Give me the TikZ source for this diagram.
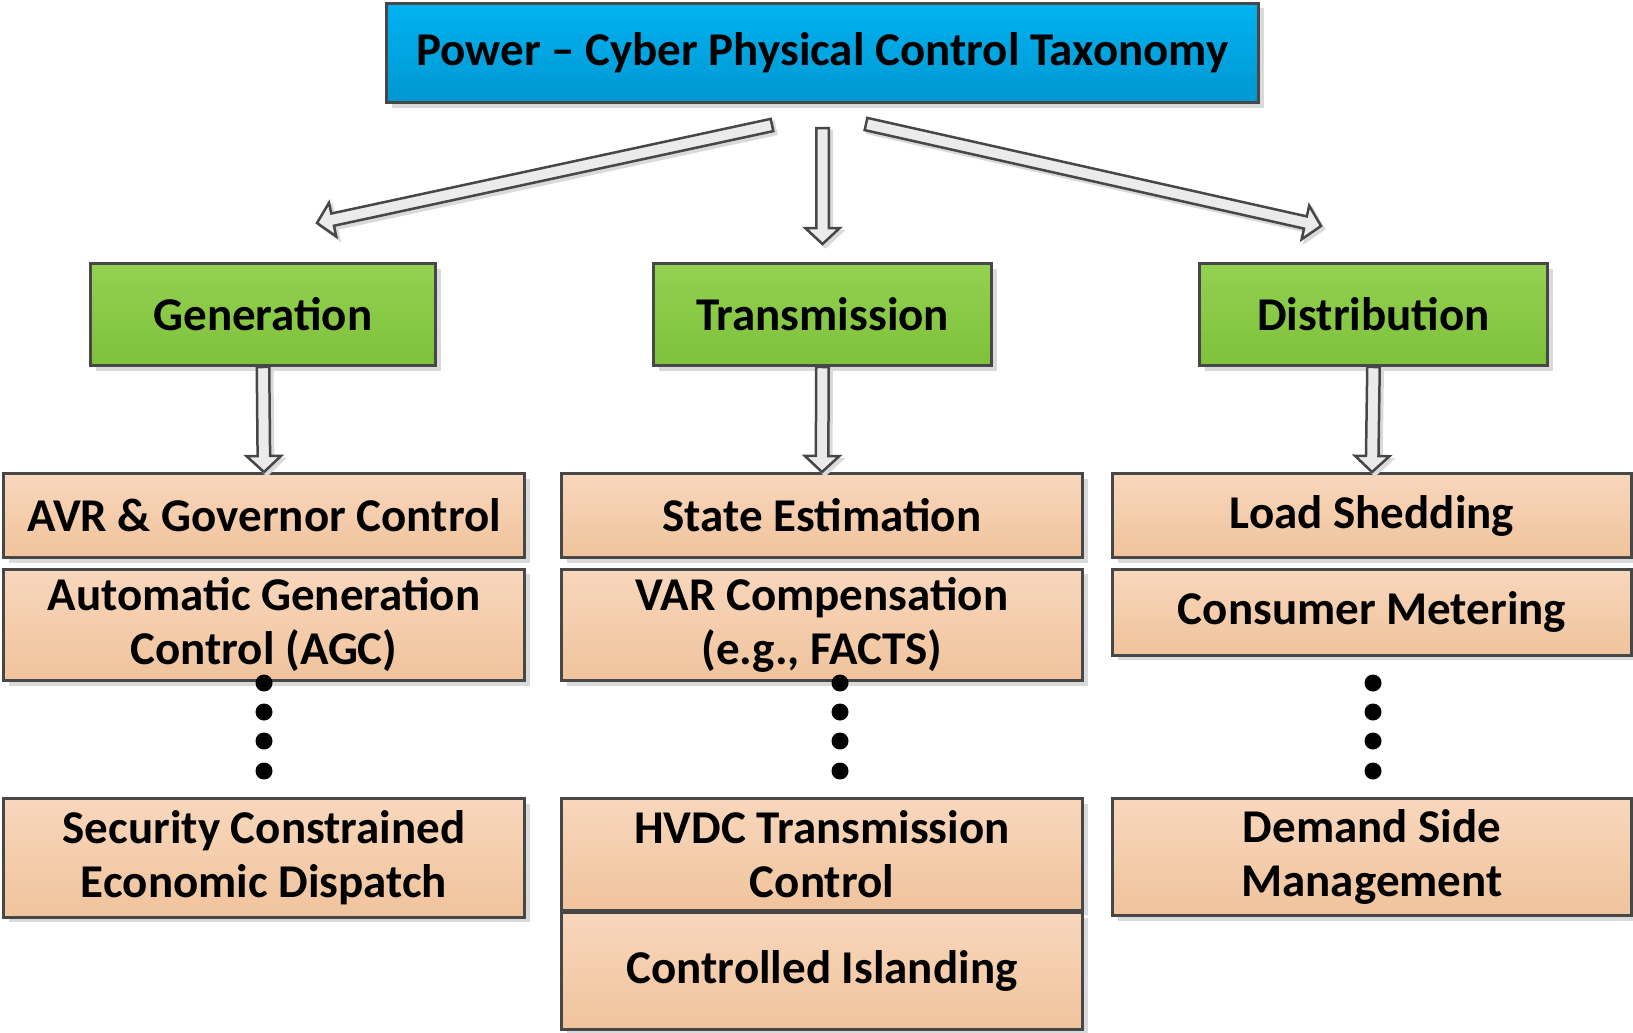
\documentclass[tikz,border=0pt]{standalone}
\usepackage{fontspec}
\setmainfont{Carlito}
\usetikzlibrary{calc,shadows}

\definecolor{blueTop}{HTML}{00B2F0}
\definecolor{blueBot}{HTML}{0098D2}
\definecolor{greenTop}{HTML}{93D152}
\definecolor{greenBot}{HTML}{7EC13A}
\definecolor{peachTop}{HTML}{F8D7BC}
\definecolor{peachBot}{HTML}{F0C39C}
\definecolor{edgeGray}{HTML}{474747}
\definecolor{arrowFill}{HTML}{EBEBEB}
\definecolor{shadowGray}{HTML}{DADADA}

% hollow block arrow from #1 to #2 (shaft half width, head half width, head length)
\newcommand\aw{6.25pt}
\newcommand\ah{17.25pt}
\newcommand\al{16pt}
\newcommand\arrowoutline[2]{%
  ($(#1)!\aw!90:(#2)$) -- ($(bah)!\aw!90:(#2)$) -- ($(bah)!\ah!90:(#2)$) --
  (#2) -- ($(bah)!\ah!-90:(#2)$) -- ($(bah)!\aw!-90:(#2)$) --
  ($(#1)!\aw!-90:(#2)$) -- cycle}
\newcommand\blockarrow[2]{%
  \coordinate (bah) at ($(#2)!\al!(#1)$);
  \filldraw[shadowGray, line width=2.5pt, transform canvas={shift={(3pt,-3pt)}}] \arrowoutline{#1}{#2};
  \filldraw[fill=arrowFill, draw=edgeGray, line width=2.5pt, line join=miter] \arrowoutline{#1}{#2};
}

\tikzset{
  box/.style={draw=edgeGray, line width=3pt, inner sep=0pt, align=center,
    font=\bfseries\fontsize{47}{54}\selectfont,
    drop shadow={shadow xshift=5pt, shadow yshift=-5pt, fill=shadowGray, opacity=1}},
  titlebox/.style={box, top color=blueTop, bottom color=blueBot},
  catbox/.style={box, top color=greenTop, bottom color=greenBot},
  itembox/.style={box, top color=peachTop, bottom color=peachBot},
  gapdot/.style={circle, fill=black, inner sep=0pt, minimum size=17pt},
}

\begin{document}
\begin{tikzpicture}[x=1pt, y=-1pt]
\useasboundingbox (0,0) rectangle (1633,1033);

% title
\node[titlebox, minimum width=872pt, minimum height=99pt] (top) at (822.5,53)
  {Power – Cyber Physical Control Taxonomy};

% categories
\node[catbox, minimum width=345pt, minimum height=102pt] (gen) at (263,314.5) {Generation};
\node[catbox, minimum width=338pt, minimum height=102pt] (tra) at (822.5,314.5) {Transmission};
\node[catbox, minimum width=348pt, minimum height=102pt] (dis) at (1373.5,314.5) {Distribution};

% generation controls
\node[itembox, minimum width=521pt, minimum height=84pt] (avr) at (264,515.5) {AVR \& Governor Control};
\node[itembox, minimum width=521pt, minimum height=111.5pt] (agc) at (264,624.75) {Automatic Generation\\Control (AGC)};
\node[itembox, minimum width=521pt, minimum height=118.5pt] (sced) at (264,857.75) {Security Constrained\\Economic Dispatch};

% transmission controls
\node[itembox, minimum width=521pt, minimum height=84pt] (se) at (822,515.5) {State Estimation};
\node[itembox, minimum width=521pt, minimum height=111.5pt] (var) at (822,624.75) {VAR Compensation\\(e.g., FACTS)};
\node[itembox, minimum width=521pt, minimum height=111.5pt] (hvdc) at (822,854.25) {HVDC Transmission\\Control};
\node[itembox, minimum width=521pt, minimum height=116.5pt] (isl) at (822,970.75) {Controlled Islanding};

% distribution controls
\node[itembox, minimum width=519pt, minimum height=84pt] (ls) at (1372,515.5) {Load Shedding};
\node[itembox, minimum width=519pt, minimum height=86pt] (cm) at (1372,612) {Consumer Metering};
\node[itembox, minimum width=519pt, minimum height=117pt] (dsm) at (1372,857) {Demand Side\\Management};

% ellipsis dots between the lists
\foreach \cx/\col in {264/g, 840/t, 1373/d}{
  \foreach \cy [count=\k] in {683,712,741,771}{
    \node[gapdot] (dot-\col\k) at (\cx,\cy) {};
  }
}

% arrows from the title to the categories
\coordinate (tailL) at (772,125);
\coordinate (tipL) at (317,223);
\coordinate (tailM) at (822.5,128);
\coordinate (tipM) at (822.5,244);
\coordinate (tailR) at (866,124);
\coordinate (tipR) at (1321,226);
\blockarrow{tailL}{tipL}
\blockarrow{tailM}{tipM}
\blockarrow{tailR}{tipR}

% arrows from each category to its first control
\blockarrow{gen.south}{avr.north}
\blockarrow{tra.south}{se.north}
\blockarrow{dis.south}{ls.north}
\end{tikzpicture}
\end{document}
